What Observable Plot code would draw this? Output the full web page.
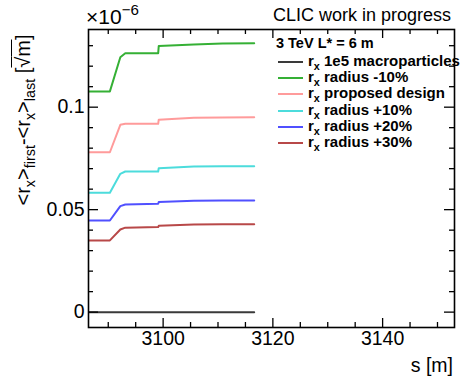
<!DOCTYPE html>
<html>
<head>
<meta charset="utf-8">
<script src="https://cdn.jsdelivr.net/npm/d3@7"></script>
<script src="https://cdn.jsdelivr.net/npm/@observablehq/plot@0.6"></script>
<style>
  html, body { margin: 0; padding: 0; background: #fff; }
  #wrap { position: relative; width: 461px; height: 376px; font-family: "Liberation Sans", Arial, Helvetica, sans-serif; color: #000; overflow: hidden; }
  .ann { position: absolute; white-space: nowrap; line-height: 1; }
  #legend { position: absolute; left: 276px; top: 37px; font-weight: bold; font-size: 15px; line-height: 1; }
  #legend .row { position: absolute; left: 0; white-space: nowrap; height: 16px; }
  #legend .sw { position: absolute; left: 2px; width: 25px; height: 2px; }
  #legend .lbl { position: absolute; left: 32px; top: -8px; }
  sub { font-size: 72%; vertical-align: -0.35em; line-height: 0; }
  sup { font-size: 72%; vertical-align: 0.62em; line-height: 0; }
</style>
</head>
<body>
<div id="wrap"></div>
<script>
// ---- data (values in units of 1e-6 sqrt(m)) ----
const sPos = [3086.4, 3090.3, 3092.2, 3093.1, 3099.1, 3099.2, 3105.6, 3110.8, 3116.6];
const macro = [0, 0, 0, 0, 0, 0, 0, 0, 0];
const radMinus10 = [0.1077, 0.1077, 0.1244, 0.1263, 0.1263, 0.1298, 0.1306, 0.1311, 0.1312];
const proposed   = [0.0780, 0.0780, 0.0914, 0.0919, 0.0919, 0.0939, 0.0948, 0.0950, 0.0951];
const radPlus10  = [0.0582, 0.0582, 0.0675, 0.0686, 0.0686, 0.0702, 0.0710, 0.0712, 0.0712];
const radPlus20  = [0.0447, 0.0447, 0.0517, 0.0525, 0.0529, 0.0537, 0.0543, 0.0545, 0.0545];
const radPlus30  = [0.0350, 0.0350, 0.0403, 0.0412, 0.0415, 0.0421, 0.0428, 0.0429, 0.0429];

const seriesNames = ["1e5 macroparticles", "radius -10%", "proposed design", "radius +10%", "radius +20%", "radius +30%"];
const seriesValues = [macro, radMinus10, proposed, radPlus10, radPlus20, radPlus30];
const seriesColors = ["#3a3a3a", "#35b035", "#ff9b9b", "#4cdcdc", "#5050ff", "#b84848"];

const xMajor = [3100, 3120, 3140];
const xMinor = [3090, 3095, 3105, 3110, 3115, 3125, 3130, 3135, 3145, 3150];
const yMajor = [0, 0.05, 0.1];
const yMajorLabels = ["0", "0.05", "0.1"];
const yMinor = [0.01, 0.02, 0.03, 0.04, 0.06, 0.07, 0.08, 0.09, 0.11, 0.12, 0.13];

// ---- build table ----
const rows = [];
seriesValues.forEach((vals, k) => {
  vals.forEach((v, i) => rows.push({series: seriesNames[k], s: sPos[i], v}));
});

const W = 461, H = 376, mL = 88, mR = 7, mT = 29, mB = 49;
const fw = W - mL - mR, fh = H - mT - mB;

const chart = Plot.plot({
  width: W, height: H,
  marginLeft: mL, marginRight: mR, marginTop: mT, marginBottom: mB,
  style: {fontFamily: '"Liberation Sans", Arial, Helvetica, sans-serif', background: "#fff", color: "#000"},
  x: {domain: [3086.4, 3153.1], axis: null},
  y: {domain: [-0.0075, 0.1379], axis: null},
  color: {domain: seriesNames, range: seriesColors},
  marks: [
    Plot.line(rows, {x: "s", y: "v", z: "series", stroke: "series", strokeWidth: 2, clip: true}),
    // bottom ticks (inside)
    Plot.tickX(xMajor, {x: d => d, insetTop: fh - 9, stroke: "#000", strokeWidth: 1.3}),
    Plot.tickX(xMinor, {x: d => d, insetTop: fh - 5, stroke: "#000", strokeWidth: 1.3}),
    // top ticks
    Plot.tickX(xMajor, {x: d => d, insetBottom: fh - 9, stroke: "#000", strokeWidth: 1.3}),
    Plot.tickX(xMinor, {x: d => d, insetBottom: fh - 5, stroke: "#000", strokeWidth: 1.3}),
    // left ticks
    Plot.tickY(yMajor, {y: d => d, insetRight: fw - 10, stroke: "#000", strokeWidth: 1.3}),
    Plot.tickY(yMinor, {y: d => d, insetRight: fw - 5, stroke: "#000", strokeWidth: 1.3}),
    // right ticks
    Plot.tickY(yMajor, {y: d => d, insetLeft: fw - 10, stroke: "#000", strokeWidth: 1.3}),
    Plot.tickY(yMinor, {y: d => d, insetLeft: fw - 5, stroke: "#000", strokeWidth: 1.3}),
    Plot.frame({stroke: "#000", strokeWidth: 1.6}),
    // tick labels
    Plot.text(yMajor, {y: d => d, text: (d, i) => yMajorLabels[i], frameAnchor: "left", dx: -4, textAnchor: "end", fontSize: 19.5, fill: "#000"}),
    Plot.text(xMajor, {x: d => d, text: d => String(d), frameAnchor: "bottom", dy: 17, fontSize: 19.5, fill: "#000"})
  ]
});

const wrap = document.getElementById("wrap");
wrap.appendChild(chart);

function ann(html, css) {
  const d = document.createElement("div");
  d.className = "ann";
  d.innerHTML = html;
  Object.assign(d.style, css);
  wrap.appendChild(d);
  return d;
}

ann("CLIC work in progress", {right: "10px", top: "6px", fontSize: "18px"});
ann("&times;10<sup>&minus;6</sup>", {left: "86px", top: "6px", fontSize: "21px"});
ann("s [m]", {right: "8px", top: "356px", fontSize: "19.5px"});
ann("&lt;r<sub>x</sub>&gt;<sub>first</sub>-&lt;r<sub>x</sub>&gt;<sub>last</sub> [<span style='border-top:1.3px solid #000;'>&radic;</span><span style='border-top:1.3px solid #000;'>m</span>]",
  {left: "23px", top: "120px", fontSize: "20px", transform: "translate(-50%,-50%) rotate(-90deg)"});

// legend
const leg = document.createElement("div");
leg.id = "legend";
let html = `<div class="row" style="top:-1px"><span style="position:absolute;left:0;top:0;font-size:14.5px">3 TeV L* = 6 m</span></div>`;
seriesNames.forEach((name, i) => {
  const top = 24 + i * 16.2;
  html += `<div class="row" style="top:${top}px"><span class="sw" style="background:${seriesColors[i]}"></span><span class="lbl">r<sub>x</sub> ${name}</span></div>`;
});
leg.innerHTML = html;
wrap.appendChild(leg);
</script>
</body>
</html>
